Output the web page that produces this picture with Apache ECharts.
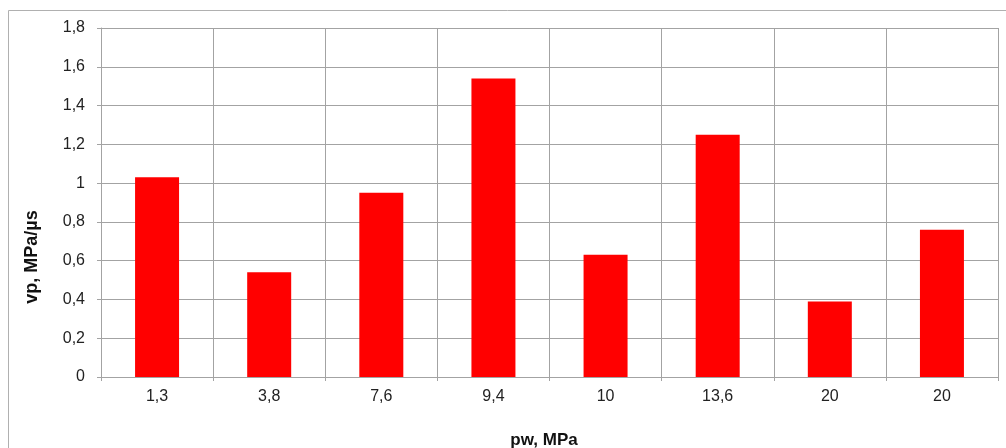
<!DOCTYPE html>
<html>
<head>
<meta charset="utf-8">
<script src="https://cdn.jsdelivr.net/npm/echarts@6/dist/echarts.min.js"></script>
<style>
  html, body { margin: 0; padding: 0; background: #fff; }
  #chart { width: 1006px; height: 448px; }
</style>
</head>
<body>
<div id="chart"></div>
<script>
// Water pressure categories (MPa) and pressure rate values (MPa/µs)
const categories = ['1,3', '3,8', '7,6', '9,4', '10', '13,6', '20', '20'];
const vpValues = [1.03, 0.54, 0.95, 1.54, 0.63, 1.25, 0.39, 0.76];
const yTickLabels = ['0', '0,2', '0,4', '0,6', '0,8', '1', '1,2', '1,4', '1,6', '1,8'];

const FONT = '"Liberation Sans", Arial, sans-serif';
const GRID_COLOR = '#a3a3a3';

const chart = echarts.init(document.getElementById('chart'), null, { renderer: 'canvas' });

chart.setOption({
  animation: false,
  backgroundColor: '#ffffff',
  grid: { left: 101, top: 28, right: 8, bottom: 71, containLabel: false },
  graphic: [
    {
      type: 'rect',
      shape: { x: 8.5, y: 10.5, width: 1010, height: 450 },
      style: { fill: 'none', stroke: '#b0b0b0', lineWidth: 1 },
      silent: true, z: -1
    },
    {
      type: 'text',
      x: 32, y: 257,
      rotation: Math.PI / 2,
      style: {
        text: 'vp, MPa/µs',
        font: 'bold 18px ' + FONT,
        fill: '#111',
        align: 'center',
        verticalAlign: 'middle'
      }
    },
    {
      type: 'text',
      x: 544, y: 440,
      style: {
        text: 'pw, MPa',
        font: 'bold 17px ' + FONT,
        fill: '#111',
        align: 'center',
        verticalAlign: 'middle'
      }
    }
  ],
  xAxis: {
    type: 'category',
    data: categories,
    boundaryGap: true,
    axisLine: { show: true, lineStyle: { color: GRID_COLOR, width: 1 } },
    axisTick: { show: true, length: 4, alignWithLabel: false, lineStyle: { color: GRID_COLOR } },
    axisLabel: { color: '#222', fontFamily: FONT, fontSize: 16, margin: 12, interval: 0 },
    splitLine: { show: true, interval: 0, lineStyle: { color: GRID_COLOR, width: 1 } }
  },
  yAxis: {
    type: 'value',
    min: 0, max: 1.8, interval: 0.2,
    axisLine: { show: true, lineStyle: { color: GRID_COLOR, width: 1 } },
    axisTick: { show: true, length: 4, lineStyle: { color: GRID_COLOR } },
    axisLabel: {
      color: '#222', fontFamily: FONT, fontSize: 16, margin: 16,
      formatter: function (v) { return yTickLabels[Math.round(v / 0.2)]; }
    },
    splitLine: { show: true, lineStyle: { color: GRID_COLOR, width: 1 } }
  },
  series: [{
    type: 'bar',
    data: vpValues,
    barWidth: 44,
    itemStyle: { color: '#ff0000' }
  }]
});
</script>
</body>
</html>
